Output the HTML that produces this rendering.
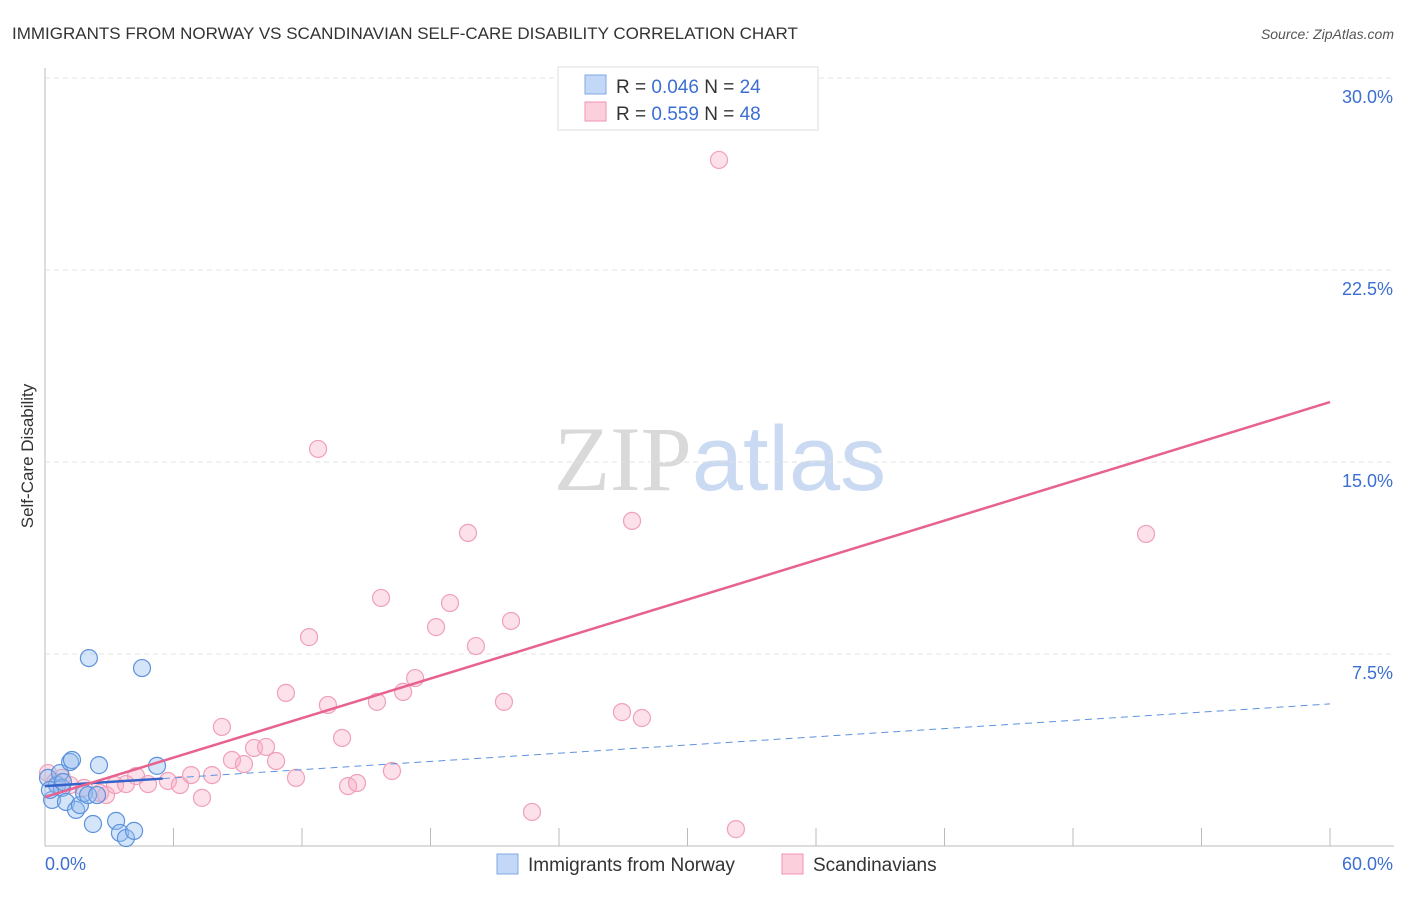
<!DOCTYPE html>
<html><head><meta charset="utf-8"><style>
body{margin:0;background:#fff;font-family:"Liberation Sans",sans-serif}
svg text{font-family:"Liberation Sans",sans-serif}
</style></head><body>
<svg id="chart" width="1406" height="892" xmlns="http://www.w3.org/2000/svg">
<text x="12" y="39" font-size="17" fill="#333">IMMIGRANTS FROM NORWAY VS SCANDINAVIAN SELF-CARE DISABILITY CORRELATION CHART</text>
<text x="1394" y="39" font-size="14" fill="#555" font-style="italic" text-anchor="end">Source: ZipAtlas.com</text>
<text x="720" y="490" font-size="92" text-anchor="middle"><tspan fill="#d9d9d9" font-family="Liberation Serif">ZIP</tspan><tspan fill="#c9daf2">atlas</tspan></text>
<text transform="translate(33,456) rotate(-90)" font-size="17" fill="#333" text-anchor="middle">Self-Care Disability</text>
<g id="grid"></g><g id="axes"></g><g id="marks"></g>
<g>
<rect x="558" y="67" width="260" height="63" fill="#fff" stroke="#ddd"/>
<rect x="585" y="75" width="21" height="19" fill="#c3d8f7" stroke="#7fa7e6"/>
<rect x="585" y="102" width="21" height="19" fill="#fbd0dc" stroke="#f095b2"/>
<text x="616" y="93" font-size="19" fill="#333">R = <tspan fill="#3c6fd1">0.046</tspan>   N = <tspan fill="#3c6fd1">24</tspan></text>
<text x="616" y="120" font-size="19" fill="#333">R =  <tspan fill="#3c6fd1">0.559</tspan>   N = <tspan fill="#3c6fd1">48</tspan></text>
</g>
<g>
<rect x="497" y="854" width="21" height="20" fill="#c3d8f7" stroke="#7fa7e6"/>
<text x="528" y="871" font-size="19" fill="#333">Immigrants from Norway</text>
<rect x="782" y="854" width="21" height="20" fill="#fbd0dc" stroke="#f095b2"/>
<text x="813" y="871" font-size="19" fill="#333">Scandinavians</text>
</g>
</svg>
<script>
const blueX=[0.14,0.33,0.56,0.70,0.79,0.98,1.17,1.26,1.45,1.63,1.82,2.01,2.05,2.24,2.43,2.52,3.32,3.50,3.78,4.16,4.53,5.23,0.23,0.84];
const blueY=[2.66,1.80,2.38,2.85,2.27,1.72,3.28,3.36,1.41,1.60,2.07,1.99,7.34,0.86,1.99,3.16,0.98,0.51,0.31,0.59,6.95,3.13,2.19,2.50];
const pinkX=[0.14,0.47,0.79,1.17,1.82,2.57,2.85,3.27,3.78,4.25,4.81,5.74,6.30,6.82,7.33,7.80,8.26,8.73,9.29,9.76,10.32,10.79,11.25,11.72,12.33,12.75,13.21,13.87,14.15,14.57,15.50,15.69,16.20,16.72,17.28,18.26,18.91,19.75,20.12,21.43,21.76,22.74,26.94,27.41,27.87,31.47,32.26,51.41];
const pinkY=[2.85,2.50,2.66,2.38,2.27,2.07,1.99,2.38,2.42,2.73,2.42,2.54,2.38,2.77,1.88,2.77,4.65,3.36,3.20,3.83,3.87,3.32,5.98,2.66,8.16,15.51,5.51,4.22,2.34,2.46,5.63,9.69,2.93,6.02,6.56,8.55,9.49,12.23,7.81,5.63,8.79,1.33,5.23,12.70,5.00,26.80,0.66,12.19];
const blueTrend=[2.34,5.55];
const pinkTrend=[1.91,17.34];
const yTicks=[7.5,15,22.5,30];
const yTickLabels=["7.5%","15.0%","22.5%","30.0%"];
const xTicks=[0,6,12,18,24,30,36,42,48,54,60];
const NS="http://www.w3.org/2000/svg";
const sx=v=>45+v/60*1285;
const sy=v=>846-v/7.5*192;
function mk(tag,attrs,parent){const e=document.createElementNS(NS,tag);for(const k in attrs)e.setAttribute(k,attrs[k]);document.getElementById(parent).appendChild(e);return e;}
yTicks.forEach((t,i)=>{
 const g=mk('line',{x1:45,x2:1394,y1:sy(t),y2:sy(t),stroke:'#e3e3e3','stroke-dasharray':'5,4'},'grid');
 
 
 const l=mk('text',{x:1393,y:sy(t)+25,'font-size':18,fill:'#3c6fd1','text-anchor':'end'},'axes');
 l.textContent=yTickLabels[i];
 
 
});
let a=mk('line',{x1:45,x2:45,y1:68,y2:846,stroke:'#bbb'},'axes');


a=mk('line',{x1:45,x2:1394,y1:846,y2:846,stroke:'#bbb'},'axes');


xTicks.forEach(t=>{if(t===0)return;const e=mk('line',{x1:sx(t),x2:sx(t),y1:828,y2:846,stroke:'#bbb'},'axes');
 
 });
let xl=mk('text',{x:45,y:870,'font-size':18,fill:'#3c6fd1'},'axes');xl.textContent='0.0%';


xl=mk('text',{x:1393,y:870,'font-size':18,fill:'#3c6fd1','text-anchor':'end'},'axes');xl.textContent='60.0%';


pinkX.forEach((x,i)=>{const c=mk('circle',{cx:sx(x),cy:sy(pinkY[i]),r:8.5,fill:'rgba(246,170,195,0.35)',stroke:'#f0a0b9','stroke-width':1.2},'marks');
 
 });
blueX.forEach((x,i)=>{const c=mk('circle',{cx:sx(x),cy:sy(blueY[i]),r:8.5,fill:'rgba(150,190,240,0.4)',stroke:'#5d92dd','stroke-width':1.2},'marks');
 
 });
const bAt=x=>blueTrend[0]+(blueTrend[1]-blueTrend[0])*x/60;
let t=mk('line',{x1:sx(5.5),y1:sy(bAt(5.5)),x2:sx(60),y2:sy(bAt(60)),stroke:'#5d92dd','stroke-width':1,'stroke-dasharray':'7,5'},'marks');


t=mk('line',{x1:sx(0),y1:sy(bAt(0)),x2:sx(5.5),y2:sy(bAt(5.5)),stroke:'#3563c9','stroke-width':2.5},'marks');


t=mk('line',{x1:sx(0),y1:sy(pinkTrend[0]),x2:sx(60),y2:sy(pinkTrend[1]),stroke:'#e8628f','stroke-width':2.5},'marks');


</script>
</body></html>
